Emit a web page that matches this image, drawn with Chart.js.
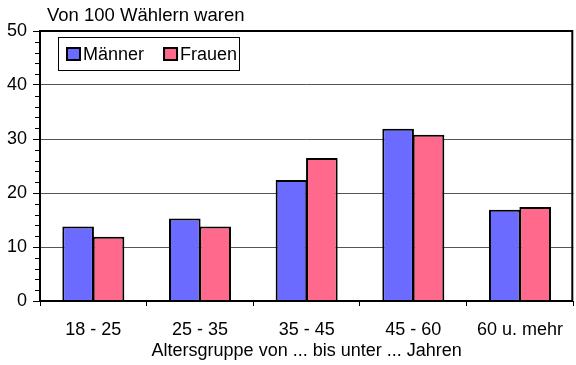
<!DOCTYPE html>
<html>
<head>
<meta charset="utf-8">
<script src="https://cdn.jsdelivr.net/npm/chart.js@4"></script>
<style>
  html, body { margin: 0; padding: 0; background: #fff; }
  canvas { display: block; }
</style>
</head>
<body>
<canvas id="chart" width="576" height="365"></canvas>
<script>
const ageGroups = ['18 - 25', '25 - 35', '35 - 45', '45 - 60', '60 u. mehr'];
const maenner = [13.8, 15.3, 22.4, 31.9, 16.9];
const frauen = [11.9, 13.8, 26.5, 30.8, 17.4];
const yTicks = [0, 10, 20, 30, 40, 50];

const FONT = '"Liberation Sans", Arial, sans-serif';

// frame around the plot, minor ticks, title and boxed legend
const decor = {
  id: 'decor',
  afterDraw(chart) {
    const { ctx, chartArea: a, scales: { y } } = chart;
    ctx.save();

    // minor ticks every 2 units
    ctx.strokeStyle = '#000';
    ctx.lineWidth = 1;
    for (let v = 0; v <= 50; v += 2) {
      if (v % 10 === 0) continue;
      const py = Math.round(y.getPixelForValue(v)) + 0.5;
      ctx.beginPath();
      ctx.moveTo(a.left - 5, py);
      ctx.lineTo(a.left, py);
      ctx.stroke();
    }

    // plot frame
    ctx.lineWidth = 2;
    ctx.strokeRect(a.left, a.top, a.right - a.left - 1, a.bottom - a.top);

    // title
    ctx.fillStyle = '#000';
    ctx.font = '18.5px ' + FONT;
    ctx.textBaseline = 'alphabetic';
    ctx.textAlign = 'left';
    ctx.fillText('Von 100 Wählern waren', 47, 21);

    // legend
    ctx.font = '18px ' + FONT;
    ctx.fillStyle = '#fff';
    ctx.fillRect(58, 37, 181, 33);
    ctx.lineWidth = 1;
    ctx.strokeRect(58.5, 37.5, 181, 33);
    let x = 67;
    chart.data.datasets.forEach(ds => {
      ctx.fillStyle = ds.backgroundColor;
      ctx.fillRect(x, 48, 13, 12);
      ctx.lineWidth = 2;
      ctx.strokeStyle = '#000';
      ctx.strokeRect(x, 48, 13, 12);
      ctx.fillStyle = '#000';
      ctx.fillText(ds.label, x + 16, 60);
      x += 16 + ctx.measureText(ds.label).width + 20;
    });

    ctx.restore();
  }
};

new Chart(document.getElementById('chart'), {
  type: 'bar',
  data: {
    labels: ageGroups,
    datasets: [
      {
        label: 'Männer',
        data: maenner,
        backgroundColor: '#6b6bff',
        borderColor: '#000',
        borderWidth: 2,
        inflateAmount: 0,
        barPercentage: 1.04,
        categoryPercentage: 0.57
      },
      {
        label: 'Frauen',
        data: frauen,
        backgroundColor: '#ff6a8c',
        borderColor: '#000',
        borderWidth: 2,
        inflateAmount: 0,
        barPercentage: 1.04,
        categoryPercentage: 0.57
      }
    ]
  },
  options: {
    responsive: false,
    animation: false,
    layout: { padding: { top: 31, left: 0, right: 0, bottom: 0 } },
    plugins: {
      legend: { display: false },
      tooltip: { enabled: false }
    },
    scales: {
      x: {
        afterFit: s => { s.height = 64; },
        border: { display: false },
        grid: {
          offset: true,
          drawOnChartArea: false,
          tickLength: 5,
          tickColor: '#000'
        },
        ticks: {
          color: '#000',
          padding: 13,
          font: { family: FONT, size: 18 }
        },
        title: {
          display: true,
          text: 'Altersgruppe von ... bis unter ... Jahren',
          color: '#000',
          font: { family: FONT, size: 18 },
          padding: { top: 0, bottom: 3 }
        }
      },
      y: {
        min: 0,
        max: 50,
        afterFit: s => { s.width = 40; },
        afterBuildTicks: s => { s.ticks = yTicks.map(v => ({ value: v })); },
        border: { display: false },
        grid: {
          color: ctx => (ctx.tick && ctx.tick.value > 0 && ctx.tick.value < 50) ? '#555' : 'rgba(0,0,0,0)',
          tickColor: '#000',
          tickLength: 7
        },
        ticks: {
          color: '#000',
          padding: 6,
          font: { family: FONT, size: 18 }
        }
      }
    }
  },
  plugins: [decor]
});
</script>
</body>
</html>
